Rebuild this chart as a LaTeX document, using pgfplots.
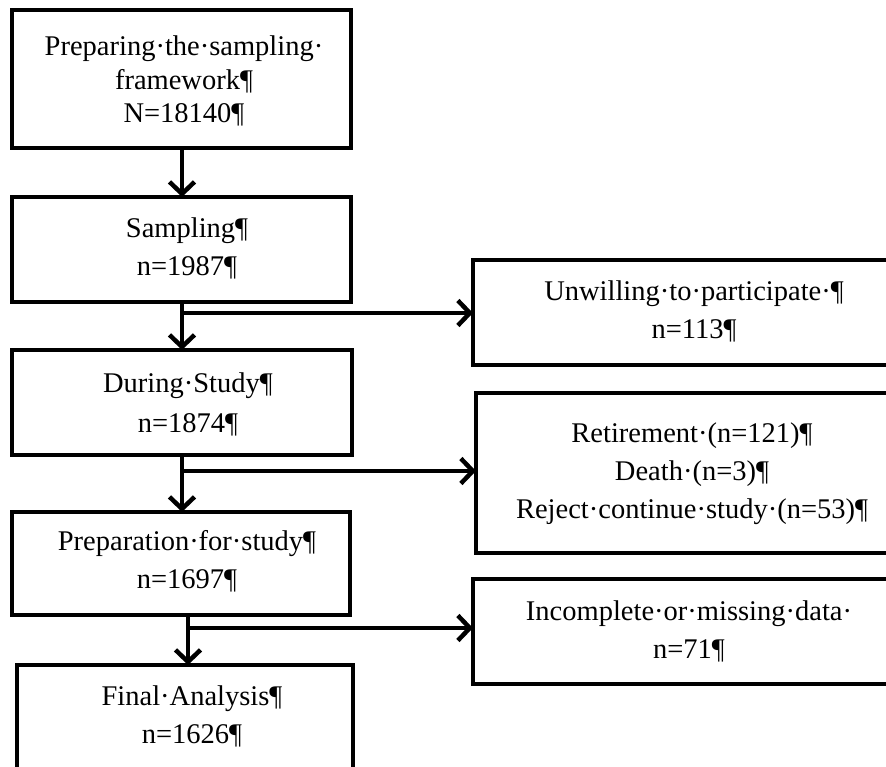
\documentclass[border=0pt]{standalone}
\usepackage{fontspec}
\setmainfont{Liberation Serif}
\usepackage{pgfplots}
\pgfplotsset{compat=1.18}
\usetikzlibrary{arrows.meta}
\tikzset{
  box/.style={draw=black, line width=4.8bp, line join=miter},
  arr/.style={draw=black, line width=4.8bp, -{Straight Barb[length=12bp,width=25bp,line width=4.5bp]}},
  txt/.style={anchor=base, inner sep=0pt, font=\fontsize{28.5bp}{30bp}\selectfont},
}
\begin{document}
\begin{tikzpicture}
\begin{axis}[
  hide axis, scale only axis,
  x=1bp, y=1bp, y dir=reverse,
  xmin=0, xmax=886, ymin=0, ymax=767,
  clip=true,
]
% left boxes
\addplot[box, mark=none] coordinates {(12,10) (351,10) (351,148) (12,148)} -- cycle;
\addplot[box, mark=none] coordinates {(12,197) (351,197) (351,302) (12,302)} -- cycle;
\addplot[box, mark=none] coordinates {(12,350) (352,350) (352,455) (12,455)} -- cycle;
\addplot[box, mark=none] coordinates {(12,512) (350,512) (350,615) (12,615)} -- cycle;
\addplot[box, mark=none] coordinates {(17,665) (353,665) (353,800) (17,800)} -- cycle;
% right boxes
\addplot[box, mark=none] coordinates {(473,260) (900,260) (900,365) (473,365)} -- cycle;
\addplot[box, mark=none] coordinates {(476,393) (900,393) (900,553) (476,553)} -- cycle;
\addplot[box, mark=none] coordinates {(473,579) (900,579) (900,684) (473,684)} -- cycle;
% arrows
\addplot[arr, mark=none] coordinates {(182,148) (182,197)};
\addplot[arr, mark=none] coordinates {(182,302) (182,350)};
\addplot[arr, mark=none] coordinates {(180,313) (473,313)};
\addplot[arr, mark=none] coordinates {(182,455) (182,512)};
\addplot[arr, mark=none] coordinates {(180,471) (476,471)};
\addplot[arr, mark=none] coordinates {(188,615) (188,665)};
\addplot[arr, mark=none] coordinates {(186,628) (473,628)};
% texts
\node[txt] at (axis cs:184,55) {Preparing·the·sampling·};
\node[txt] at (axis cs:184,89) {framework¶};
\node[txt] at (axis cs:184,122) {N=18140¶};
\node[txt] at (axis cs:187,237) {Sampling¶};
\node[txt] at (axis cs:187,275) {n=1987¶};
\node[txt] at (axis cs:188,392) {During·Study¶};
\node[txt] at (axis cs:188,432) {n=1874¶};
\node[txt] at (axis cs:187,550) {Preparation·for·study¶};
\node[txt] at (axis cs:187,588) {n=1697¶};
\node[txt] at (axis cs:192,705) {Final·Analysis¶};
\node[txt] at (axis cs:192,743) {n=1626¶};
\node[txt] at (axis cs:694,300) {Unwilling·to·participate·¶};
\node[txt] at (axis cs:694,338) {n=113¶};
\node[txt] at (axis cs:692,442) {Retirement·(n=121)¶};
\node[txt] at (axis cs:692,480) {Death·(n=3)¶};
\node[txt] at (axis cs:692,518) {Reject·continue·study·(n=53)¶};
\node[txt] at (axis cs:689,620) {Incomplete·or·missing·data·};
\node[txt] at (axis cs:689,658) {n=71¶};
\end{axis}
\pgfresetboundingbox
\path (0,0) rectangle (886bp,767bp);
\end{tikzpicture}
\end{document}
